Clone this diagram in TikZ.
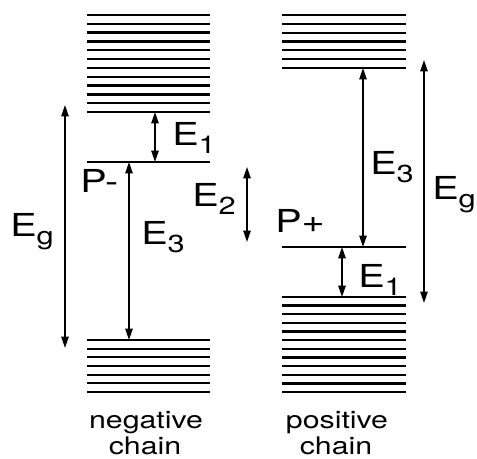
\documentclass[tikz,border=0pt]{standalone}
\usepackage{fontspec}
\setmainfont{TeX Gyre Heros}
\usetikzlibrary{arrows.meta}
\newcommand{\wide}[1]{\scalebox{1.25}[1]{#1}}
\newcommand{\lowidx}[1]{\raisebox{-4.5pt}{\fontsize{14}{14}\selectfont #1}}

\begin{document}
\begin{tikzpicture}[x=0.02cm,y=-0.02cm,
  level/.style={line width=1.3pt},
  gap/.style={line width=0.85pt,{Triangle[length=6.5pt,width=4.2pt]}-{Triangle[length=6.5pt,width=4.2pt]}},
  lbl/.style={inner sep=0pt,anchor=base west,font=\fontsize{18}{20}\selectfont},
  chaintext/.style={inner sep=0pt,anchor=base,font=\fontsize{13.8}{16}\selectfont}]
\useasboundingbox (0,0) rectangle (477,459);
%%%%%%%%% negative chain
\draw[level] (87,15) -- (210,15);
\draw[level] (87,23.8) -- (210,23.8);
\draw[level] (87,32.6) -- (210,32.6);
\draw[level] (87,41.5) -- (210,41.5);
\draw[level] (87,50.3) -- (210,50.3);
\draw[level] (87,59.1) -- (210,59.1);
\draw[level] (87,67.9) -- (210,67.9);
\draw[level] (87,76.7) -- (210,76.7);
\draw[level] (87,85.5) -- (210,85.5);
\draw[level] (87,94.4) -- (210,94.4);
\draw[level] (87,103.2) -- (210,103.2);
\draw[level] (87,112) -- (210,112);

\draw[level] (87,162) -- (210,162);

\draw[level] (87,340) -- (210,340);
\draw[level] (87,348.7) -- (210,348.7);
\draw[level] (87,357.3) -- (210,357.3);
\draw[level] (87,366) -- (210,366);
\draw[level] (87,374.7) -- (210,374.7);
\draw[level] (87,383.3) -- (210,383.3);
\draw[level] (87,392) -- (210,392);

\coordinate (nE1a) at (155,112);
\coordinate (nE1b) at (155,162);
\coordinate (nE3a) at (129,162);
\coordinate (nE3b) at (129,340);
\coordinate (nEga) at (65,105);
\coordinate (nEgb) at (65,348);

\draw[gap] (nE1a) -- (nE1b);
\draw[gap] (nE3a) -- (nE3b);
\draw[gap] (nEga) -- (nEgb);

\node[lbl] (nE1) at (172,146) {\wide{E\lowidx{1}}};
\node[lbl] (nP) at (80,193) {\wide{P-}};
\node[lbl] (nE3) at (141,245) {\wide{E\lowidx{3}}};
\node[lbl] (nEg) at (10,237) {\wide{E\lowidx{g}}};

%%%%%%%%% E2 between the chains
\coordinate (E2a) at (247,167);
\coordinate (E2b) at (247,242);
\draw[gap] (E2a) -- (E2b);
\node[lbl] (E2) at (192,207) {\wide{E\lowidx{2}}};

%%%%%%%%% positive chain
\draw[level] (282,15) -- (406,15);
\draw[level] (282,23.8) -- (406,23.8);
\draw[level] (282,32.7) -- (406,32.7);
\draw[level] (282,41.5) -- (406,41.5);
\draw[level] (282,50.3) -- (406,50.3);
\draw[level] (282,59.2) -- (406,59.2);
\draw[level] (282,68) -- (406,68);

\draw[level] (282,247) -- (406,247);

\draw[level] (282,297) -- (406,297);
\draw[level] (282,305.6) -- (406,305.6);
\draw[level] (282,314.3) -- (406,314.3);
\draw[level] (282,322.9) -- (406,322.9);
\draw[level] (282,331.5) -- (406,331.5);
\draw[level] (282,340.2) -- (406,340.2);
\draw[level] (282,348.8) -- (406,348.8);
\draw[level] (282,357.5) -- (406,357.5);
\draw[level] (282,366.1) -- (406,366.1);
\draw[level] (282,374.7) -- (406,374.7);
\draw[level] (282,383.4) -- (406,383.4);
\draw[level] (282,392) -- (406,392);

\coordinate (pE3a) at (363,68);
\coordinate (pE3b) at (363,247);
\coordinate (pE1a) at (342,247);
\coordinate (pE1b) at (342,297);
\coordinate (pEga) at (424,60);
\coordinate (pEgb) at (424,303);

\draw[gap] (pE3a) -- (pE3b);
\draw[gap] (pE1a) -- (pE1b);
\draw[gap] (pEga) -- (pEgb);

\node[lbl] (pE3) at (370,175) {\wide{E\lowidx{3}}};
\node[lbl] (pP) at (275,233) {\wide{P+}};
\node[lbl] (pE1) at (358,288) {\wide{E\lowidx{1}}};
\node[lbl] (pEg) at (432,200) {\wide{E\lowidx{g}}};

%%%%%%%%% captions
\node[chaintext] (neg1) at (146,428) {\wide{negative}};
\node[chaintext] (neg2) at (145,455) {\wide{chain}};
\node[chaintext] (pos1) at (337,428) {\wide{positive}};
\node[chaintext] (pos2) at (336,455) {\wide{chain}};
\end{tikzpicture}
\end{document}
